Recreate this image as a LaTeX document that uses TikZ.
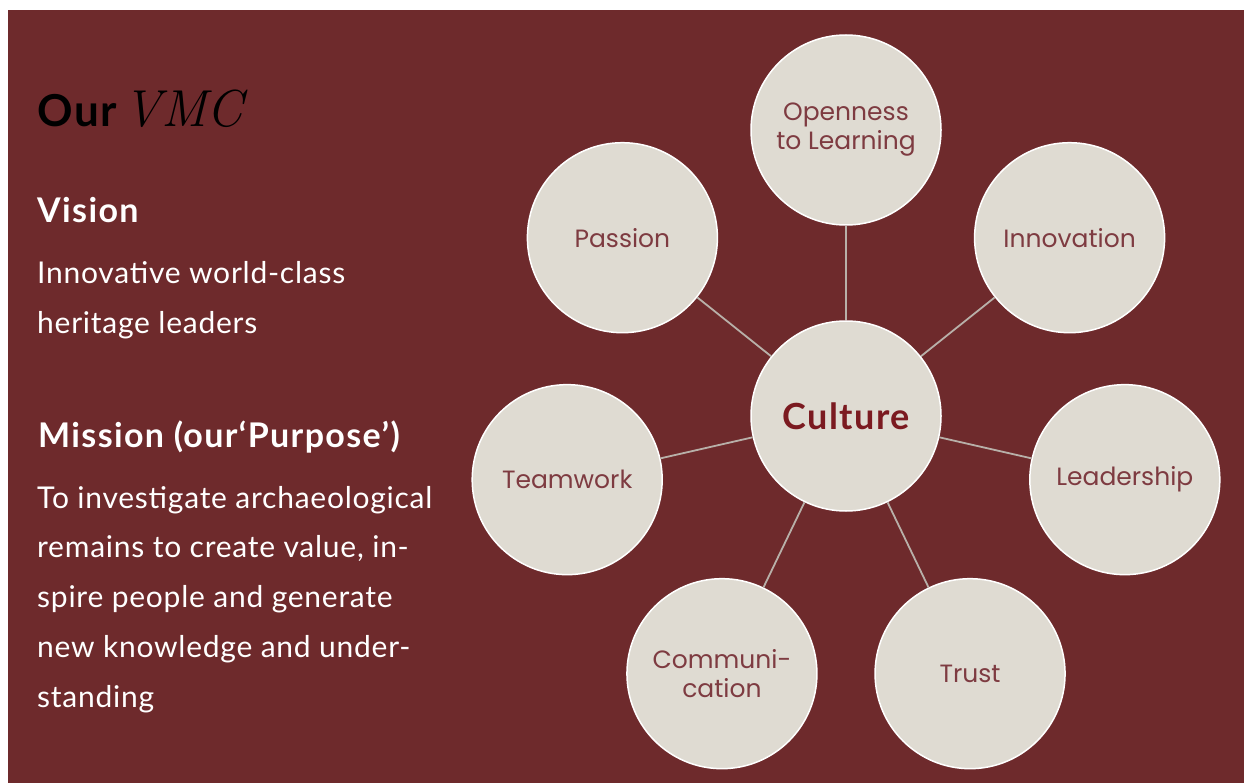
\documentclass[tikz,border=0pt]{standalone}
\usepackage{fontspec}
\setmainfont{Lato}
\newfontfamily\circfont{Poppins}
\newfontfamily\headfont[LetterSpace=4]{Lato}
\newfontfamily\bodyfont[LetterSpace=2.5]{Lato}
\newfontfamily\vmcfont{Latin Modern Roman}
\usetikzlibrary{calc}
\definecolor{bgred}{HTML}{6E2A2C}
\definecolor{circfill}{HTML}{DFDBD2}
\definecolor{circtext}{HTML}{7E3B41}
\definecolor{culttext}{HTML}{7B1A20}
\definecolor{linkgray}{HTML}{B8B0A9}
\tikzset{
  petal/.style={circle, fill=circfill, draw=white, line width=1.5pt, minimum size=190pt, inner sep=0pt,
    align=center, text=circtext, font=\circfont\fontsize{25}{29}\selectfont},
  hub/.style={petal, font=\headfont\bfseries\fontsize{36}{40}\selectfont, text=culttext},
  link/.style={draw=linkgray, line width=1.8pt},
  headtxt/.style={anchor=base west, inner sep=0pt, text=white, font=\headfont\bfseries\fontsize{34}{38}\selectfont},
  bodytxt/.style={anchor=base west, inner sep=0pt, text=white, font=\bodyfont\fontsize{30}{34}\selectfont}
}
\begin{document}
\begin{tikzpicture}[x=1pt,y=-1pt]
\useasboundingbox (0,0) rectangle (1244,783);
\fill[white] (0,0) rectangle (1244,783);
\fill[bgred] (8,10) rectangle (1244,783);

% title
\node[anchor=base west, inner sep=0pt, text=black] (title) at (37,127)
  {\headfont\fontsize{44}{48}\selectfont\bfseries Our\hspace{6pt}{\vmcfont\itshape\mdseries\fontsize{52}{56}\selectfont VMC}};

\node[headtxt] (vision) at (37,223) {Vision};
\node[bodytxt] (v1) at (37,284) {Innovative world-class};
\node[bodytxt] (v2) at (37,334) {heritage leaders};

\node[headtxt] (mission) at (38,447) {Mission (our‘Purpose’)};
\node[bodytxt] (m1) at (37,508) {To investigate archaeological};
\node[bodytxt] (m2) at (37,557) {remains to create value, in-};
\node[bodytxt] (m3) at (37,607) {spire people and generate};
\node[bodytxt] (m4) at (37,657) {new knowledge and under-};
\node[bodytxt] (m5) at (37,707) {standing};

% circles (y axis points down, so angles are negated)
\coordinate (ctr) at (846,416);
\node[hub] (culture) at (ctr) {Culture};
\node[petal] (open) at ($(ctr)+(-90:286)$) {Openness\\to Learning};
\node[petal] (innov) at ($(ctr)+(-38.57:286)$) {Innovation};
\node[petal] (lead) at ($(ctr)+(12.86:286)$) {Leadership};
\node[petal] (trust) at ($(ctr)+(64.29:286)$) {Trust};
\node[petal] (comm) at ($(ctr)+(115.71:286)$) {Communi-\\cation};
\node[petal] (team) at ($(ctr)+(167.14:286)$) {Teamwork};
\node[petal] (pass) at ($(ctr)+(-141.43:286)$) {Passion};

\foreach \n in {open,innov,lead,trust,comm,team,pass}
  \draw[link] (culture) -- (\n);
\end{tikzpicture}
\end{document}
